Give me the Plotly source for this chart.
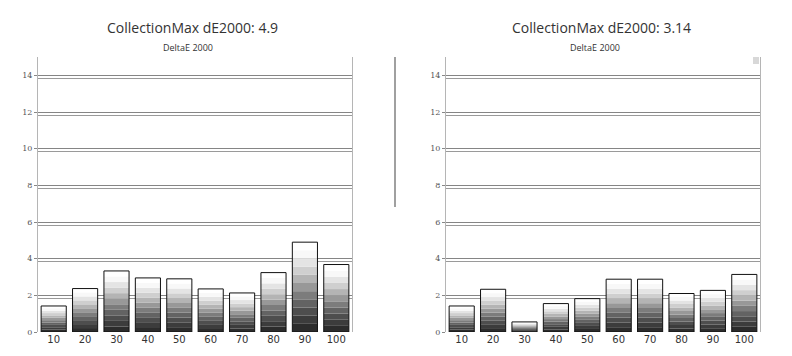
import plotly.graph_objects as go

categories = ["10", "20", "30", "40", "50", "60", "70", "80", "90", "100"]
left_values = [1.42, 2.37, 3.33, 2.95, 2.9, 2.35, 2.13, 3.24, 4.9, 3.68]
right_values = [1.42, 2.33, 0.55, 1.55, 1.82, 2.88, 2.88, 2.1, 2.27, 3.14]
left_title = "CollectionMax dE2000: 4.9"
right_title = "CollectionMax dE2000: 3.14"
subtitle = "DeltaE 2000"
y_ticks = [0, 2, 4, 6, 8, 10, 12, 14]

band_colors = ["#2c2c2c", "#3c3c3c", "#4e4e4e", "#636363", "#7c7c7c",
               "#989898", "#b4b4b4", "#cfcfcf", "#e4e4e4", "#f8f8f8", "#ffffff"]

fig = go.Figure()

def add_panel(values, xa, ya):
    n = len(band_colors)
    for i, c in enumerate(band_colors):
        fig.add_trace(go.Bar(
            x=categories, y=[v / n for v in values], base=[v * i / n for v in values],
            marker=dict(color=c, line=dict(width=0)), xaxis=xa, yaxis=ya,
            showlegend=False, hoverinfo="skip"))
    fig.add_trace(go.Bar(
        x=categories, y=values,
        marker=dict(color="rgba(0,0,0,0)", line=dict(color="#111", width=1)),
        xaxis=xa, yaxis=ya, showlegend=False))

add_panel(left_values, "x", "y")
add_panel(right_values, "x2", "y2")

ytop = 1 - 57 / 356
ybot = 1 - 332 / 356
grid_offset = 0.17
axis_y = dict(range=[0, 15], tickvals=y_ticks, showgrid=True, gridcolor="#858585",
              gridwidth=1, showline=True, mirror=True, linecolor="#b5b5b5", linewidth=1,
              ticks="outside", ticklen=3, tickcolor="#888", automargin=False,
              tickfont=dict(size=8, color="#555", family="DejaVu Serif"),
              minor=dict(tickvals=[t - grid_offset for t in y_ticks[1:]], showgrid=True,
                         gridcolor="#9a9a9a", gridwidth=1, ticks=""),
              domain=[ybot, ytop], zeroline=False, fixedrange=True)
axis_x = dict(showgrid=False, showline=False, ticks="", type="category", automargin=False,
              tickfont=dict(size=10, color="#333", family="DejaVu Sans"))

fig.update_layout(
    width=792, height=356, margin=dict(l=0, r=0, t=0, b=0),
    paper_bgcolor="white", plot_bgcolor="white", barmode="overlay", bargap=0.2,
    xaxis=dict(axis_x, domain=[38 / 792, 352 / 792], anchor="y"),
    yaxis=dict(axis_y, anchor="x"),
    xaxis2=dict(axis_x, domain=[446 / 792, 760 / 792], anchor="y2"),
    yaxis2=dict(axis_y, anchor="x2"),
)

shapes = []
shapes.append(dict(type="line", xref="paper", yref="paper", x0=395 / 792, x1=395 / 792,
                   y0=1 - 207 / 356, y1=1 - 57 / 356, line=dict(color="#a0a0a0", width=2)))
shapes.append(dict(type="rect", xref="paper", yref="paper", x0=753 / 792, x1=759 / 792,
                   y0=1 - 64 / 356, y1=1 - 57 / 356, line=dict(width=0), fillcolor="#d8d8d8"))
fig.update_layout(shapes=shapes)

ann = []
for cx, title in ((192, left_title), (601, right_title)):
    ann.append(dict(text=title, x=cx / 792, y=1 - 27 / 356, xref="paper", yref="paper",
                    showarrow=False, font=dict(size=14, color="#333", family="Open Sans"),
                    xanchor="center", yanchor="middle"))
for cx in (188, 595):
    ann.append(dict(text=subtitle, x=cx / 792, y=1 - 47 / 356, xref="paper", yref="paper",
                    showarrow=False, font=dict(size=9, color="#333", family="Open Sans"),
                    xanchor="center", yanchor="middle"))
fig.update_layout(annotations=ann)

fig.write_html("out.html")
